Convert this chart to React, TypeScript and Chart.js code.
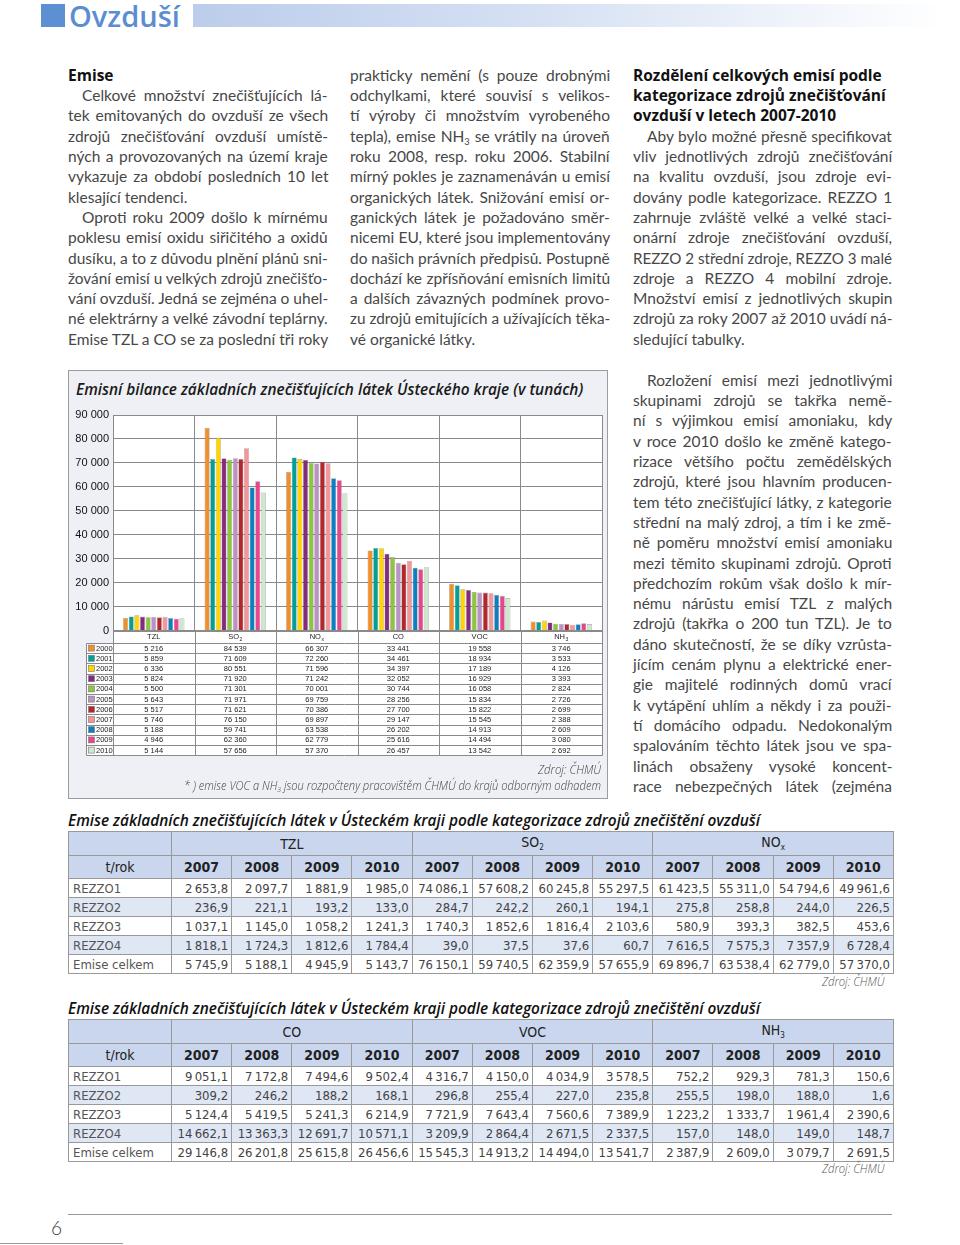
import React, { useEffect, useLayoutEffect, useRef } from "react";
import { Chart, registerables } from "chart.js";

Chart.register(...registerables);

// ---------------- chart data ----------------
const categories = ["TZL", "SO", "NO", "CO", "VOC", "NH"];
const categorySubscripts = ["", "2", "x", "", "", "3"];
const years = ["2000", "2001", "2002", "2003", "2004", "2005", "2006", "2007", "2008", "2009", "2010"];
const yearColors = ["#f0902c", "#00a096", "#ffd400", "#852b7d", "#8dc440", "#bb92c6", "#b5262c", "#f3969b", "#0c7fc3", "#e8468c", "#cfe6cf"];
const TZL = [5216, 5859, 6336, 5824, 5500, 5643, 5517, 5746, 5188, 4946, 5144];
const SO2 = [84539, 71609, 80551, 71920, 71301, 71971, 71621, 76150, 59741, 62360, 57656];
const NOX = [66307, 72260, 71596, 71242, 70001, 69759, 70386, 69897, 63538, 62779, 57370];
const CO = [33441, 34461, 34397, 32052, 30744, 28256, 27700, 29147, 26202, 25616, 26457];
const VOC = [19558, 18934, 17189, 16929, 16058, 15834, 15822, 15545, 14913, 14494, 13542];
const NH3 = [3746, 3533, 4126, 3393, 2824, 2726, 2699, 2388, 2609, 3080, 2692];
const seriesByCategory = [TZL, SO2, NOX, CO, VOC, NH3];
const yMax = 90000;
const yStep = 10000;

// ---------------- table data ----------------
const tableYears = ["2007", "2008", "2009", "2010"];
const rezzoRows = ["REZZO1", "REZZO2", "REZZO3", "REZZO4", "Emise celkem"];
const TZL_R = [[2653.8, 2097.7, 1881.9, 1985.0], [236.9, 221.1, 193.2, 133.0], [1037.1, 1145.0, 1058.2, 1241.3], [1818.1, 1724.3, 1812.6, 1784.4], [5745.9, 5188.1, 4945.9, 5143.7]];
const SO2_R = [[74086.1, 57608.2, 60245.8, 55297.5], [284.7, 242.2, 260.1, 194.1], [1740.3, 1852.6, 1816.4, 2103.6], [39.0, 37.5, 37.6, 60.7], [76150.1, 59740.5, 62359.9, 57655.9]];
const NOX_R = [[61423.5, 55311.0, 54794.6, 49961.6], [275.8, 258.8, 244.0, 226.5], [580.9, 393.3, 382.5, 453.6], [7616.5, 7575.3, 7357.9, 6728.4], [69896.7, 63538.4, 62779.0, 57370.0]];
const CO_R = [[9051.1, 7172.8, 7494.6, 9502.4], [309.2, 246.2, 188.2, 168.1], [5124.4, 5419.5, 5241.3, 6214.9], [14662.1, 13363.3, 12691.7, 10571.1], [29146.8, 26201.8, 25615.8, 26456.6]];
const VOC_R = [[4316.7, 4150.0, 4034.9, 3578.5], [296.8, 255.4, 227.0, 235.8], [7721.9, 7643.4, 7560.6, 7389.9], [3209.9, 2864.4, 2671.5, 2337.5], [15545.3, 14913.2, 14494.0, 13541.7]];
const NH3_R = [[752.2, 929.3, 781.3, 150.6], [255.5, 198.0, 188.0, 1.6], [1223.2, 1333.7, 1961.4, 2390.6], [157.0, 148.0, 149.0, 148.7], [2387.9, 2609.0, 3079.7, 2691.5]];

// ---------------- text ----------------
const col1 = [
  "#Emise",
  ">Celkové množství znečišťujících lá-",
  "tek emitovaných do ovzduší ze všech",
  "zdrojů znečišťování ovzduší umístě-",
  "ných a provozovaných na území kraje",
  "vykazuje za období posledních 10 let",
  "$klesající tendenci.",
  ">Oproti roku 2009 došlo k mírnému",
  "poklesu emisí oxidu siřičitého a oxidů",
  "dusíku, a to z důvodu plnění plánů sni-",
  "žování emisí u velkých zdrojů znečišťo-",
  "vání ovzduší. Jedná se zejména o uhel-",
  "né elektrárny a velké závodní teplárny.",
  "Emise TZL a CO se za poslední tři roky",
];
const col2 = [
  "prakticky nemění (s pouze drobnými",
  "odchylkami, které souvisí s velikos-",
  "tí výroby či množstvím vyrobeného",
  "tepla), emise NH_3 se vrátily na úroveň",
  "roku 2008, resp. roku 2006. Stabilní",
  "mírný pokles je zaznamenáván u emisí",
  "organických látek. Snižování emisí or-",
  "ganických látek je požadováno směr-",
  "nicemi EU, které jsou implementovány",
  "do našich právních předpisů. Postupně",
  "dochází ke zpřísňování emisních limitů",
  "a dalších závazných podmínek provo-",
  "zu zdrojů emitujících a užívajících těka-",
  "$vé organické látky.",
];
const col3a = [
  "#Rozdělení celkových emisí podle",
  "#kategorizace zdrojů znečišťování",
  "#ovzduší v letech 2007-2010",
  ">Aby bylo možné přesně specifikovat",
  "vliv jednotlivých zdrojů znečišťování",
  "na kvalitu ovzduší, jsou zdroje evi-",
  "dovány podle kategorizace. REZZO 1",
  "zahrnuje zvláště velké a velké staci-",
  "onární zdroje znečišťování ovzduší,",
  "REZZO 2 střední zdroje, REZZO 3 malé",
  "zdroje a REZZO 4 mobilní zdroje.",
  "Množství emisí z jednotlivých skupin",
  "zdrojů za roky 2007 až 2010 uvádí ná-",
  "$sledující tabulky.",
];
const col3b = [
  ">Rozložení emisí mezi jednotlivými",
  "skupinami zdrojů se takřka nemě-",
  "ní s výjimkou emisí amoniaku, kdy",
  "v roce 2010 došlo ke změně katego-",
  "rizace většího počtu zemědělských",
  "zdrojů, které jsou hlavním producen-",
  "tem této znečišťující látky, z kategorie",
  "střední na malý zdroj, a tím i ke změ-",
  "ně poměru množství emisí amoniaku",
  "mezi těmito skupinami zdrojů. Oproti",
  "předchozím rokům však došlo k mír-",
  "nému nárůstu emisí TZL z malých",
  "zdrojů (takřka o 200 tun TZL). Je to",
  "dáno skutečností, že se díky vzrůsta-",
  "jícím cenám plynu a elektrické ener-",
  "gie majitelé rodinných domů vrací",
  "k vytápění uhlím a někdy i za použi-",
  "tí domácího odpadu. Nedokonalým",
  "spalováním těchto látek jsou ve spa-",
  "linách obsaženy vysoké koncent-",
  "race nebezpečných látek (zejména",
];

const BODY = '"Lato", "Open Sans", "Noto Sans", sans-serif';
const HEAD = '"Open Sans", "Noto Sans", sans-serif';
const COND = '"Liberation Sans Narrow", "DejaVu Sans Condensed", "Roboto Condensed", "Open Sans", "Noto Sans", sans-serif';
const LINE_H = 20.3;

function withSubs(text: string) {
  const parts = text.split("NH_3");
  const out: any[] = [];
  parts.forEach((p, i) => {
    out.push(<React.Fragment key={"p" + i}>{p}</React.Fragment>);
    if (i < parts.length - 1)
      out.push(
        <React.Fragment key={"s" + i}>
          NH<sub style={{ fontSize: "0.6em", verticalAlign: "-0.3em", lineHeight: 0 }}>3</sub>
        </React.Fragment>
      );
  });
  return out;
}

function JLine(props: {
  top: number;
  left: number;
  width: number;
  justify?: boolean;
  exact?: boolean;
  align?: "left" | "right";
  style?: any;
  children: any;
}) {
  const { top, left, width, justify = false, exact = false, align = "left", style, children } = props;
  const ref = useRef<HTMLSpanElement>(null);
  useLayoutEffect(() => {
    const el = ref.current;
    if (!el) return;
    const fit = () => {
      el.style.wordSpacing = "0px";
      el.style.transform = "none";
      const w = el.offsetWidth;
      const spaces = ((el.textContent || "").match(/ /g) || []).length;
      if (exact) {
        el.style.transform = `scaleX(${width / w})`;
      } else if (w > width) {
        el.style.transform = `scaleX(${width / w})`;
      } else if (justify && spaces > 0) {
        el.style.wordSpacing = `${(width - w) / spaces}px`;
      }
    };
    fit();
    const f: any = (document as any).fonts;
    if (f && f.ready) f.ready.then(fit);
  }, []);
  const right = align === "right";
  return (
    <div
      style={{
        position: "absolute",
        top,
        left,
        width,
        height: LINE_H,
        whiteSpace: "nowrap",
        lineHeight: LINE_H + "px",
        ...style,
      }}
    >
      <span
        ref={ref}
        style={{
          display: "inline-block",
          position: "absolute",
          top: 0,
          left: right ? undefined : 0,
          right: right ? 0 : undefined,
          transformOrigin: right ? "right center" : "left center",
        }}
      >
        {children}
      </span>
    </div>
  );
}

function TextColumn(props: { lines: string[]; left: number; width: number; firstCenter: number }) {
  const { lines, left, width, firstCenter } = props;
  return (
    <>
      {lines.map((raw, i) => {
        let t = raw;
        let bold = false,
          indent = 0,
          last = false;
        if (t.startsWith("#")) {
          bold = true;
          t = t.slice(1);
        }
        if (t.startsWith(">")) {
          indent = 14;
          t = t.slice(1);
        }
        if (t.startsWith("$")) {
          last = true;
          t = t.slice(1);
        }
        const top = firstCenter + i * LINE_H - LINE_H / 2;
        return (
          <JLine
            key={i}
            top={top}
            left={left + indent}
            width={width - indent}
            justify={!bold && !last}
            style={
              bold
                ? { fontFamily: HEAD, fontWeight: 700, fontSize: 15.5, color: "#111" }
                : { fontFamily: BODY, fontWeight: 400, fontSize: 15.5, color: "#474747" }
            }
          >
            {withSubs(t)}
          </JLine>
        );
      })}
    </>
  );
}

function fmtInt(v: number) {
  return String(v).replace(/\B(?=(\d{3})+(?!\d))/g, " ");
}
function fmtDec(v: number) {
  const [i, d] = v.toFixed(1).split(".");
  return i.replace(/\B(?=(\d{3})+(?!\d))/g, "\u2009") + "," + d;
}

const dataTablePlugin = {
  id: "dataTable",
  beforeDraw(chart: any) {
    const { ctx, chartArea: a } = chart;
    const headerH = 12.5;
    const rowH = 10.2;
    const rowsTop = a.bottom + headerH;
    const tBottom = rowsTop + rowH * years.length;
    const legLeft = a.left - 27;
    ctx.save();
    ctx.fillStyle = "#ffffff";
    ctx.fillRect(a.left, a.top, a.right - a.left, rowsTop - a.top);
    ctx.fillRect(legLeft, rowsTop, a.right - legLeft, tBottom - rowsTop);
    ctx.restore();
  },
  afterDraw(chart: any) {
    const { ctx, chartArea: a } = chart;
    const n = categories.length;
    const cw = (a.right - a.left) / n;
    const headerH = 12.5;
    const rowH = 10.2;
    const tTop = a.bottom;
    const rowsTop = tTop + headerH;
    const tBottom = rowsTop + rowH * years.length;
    const legLeft = a.left - 27;
    const px = (v: number) => Math.round(v) + 0.5;
    const line = (x1: number, y1: number, x2: number, y2: number) => {
      ctx.beginPath();
      ctx.moveTo(px(x1), px(y1));
      ctx.lineTo(px(x2), px(y2));
      ctx.stroke();
    };
    ctx.save();
    ctx.strokeStyle = "#8a8a8a";
    ctx.lineWidth = 1;
    ctx.strokeRect(px(a.left), px(a.top), Math.round(a.right) - Math.round(a.left), Math.round(a.bottom) - Math.round(a.top));
    line(a.left, tTop, a.right, tTop);
    for (let r = 0; r <= years.length; r++) {
      const y = rowsTop + r * rowH;
      line(legLeft, y, a.right, y);
    }
    for (let i = 0; i <= n; i++) {
      const xx = a.left + i * cw;
      line(xx, tTop, xx, tBottom);
    }
    line(legLeft, rowsTop, legLeft, tBottom);

    ctx.fillStyle = "#222";
    ctx.textBaseline = "middle";
    // category headers
    for (let i = 0; i < n; i++) {
      const cx = a.left + (i + 0.5) * cw;
      const cy = tTop + headerH / 2 + 0.5;
      ctx.font = '7.5px "Liberation Sans", Arial, sans-serif';
      const mw = ctx.measureText(categories[i]).width;
      const sub = categorySubscripts[i];
      ctx.font = '5px "Liberation Sans", Arial, sans-serif';
      const sw = sub ? ctx.measureText(sub).width + 0.5 : 0;
      const x0 = cx - (mw + sw) / 2;
      ctx.textAlign = "left";
      ctx.font = '7.5px "Liberation Sans", Arial, sans-serif';
      ctx.fillText(categories[i], x0, cy);
      if (sub) {
        ctx.font = '5px "Liberation Sans", Arial, sans-serif';
        ctx.fillText(sub, x0 + mw + 0.5, cy + 2.5);
      }
    }
    // values
    ctx.font = '7.5px "Liberation Sans", Arial, sans-serif';
    ctx.textAlign = "center";
    for (let r = 0; r < years.length; r++) {
      const cy = rowsTop + (r + 0.5) * rowH + 0.5;
      for (let i = 0; i < n; i++) {
        const cx = a.left + (i + 0.5) * cw;
        ctx.fillText(fmtInt(seriesByCategory[i][r]), cx, cy);
      }
    }
    // legend column
    ctx.textAlign = "left";
    for (let r = 0; r < years.length; r++) {
      const cy = rowsTop + (r + 0.5) * rowH;
      ctx.fillStyle = yearColors[r];
      ctx.fillRect(legLeft + 2.5, cy - 3, 6, 6);
      ctx.strokeStyle = "#777";
      ctx.lineWidth = 0.6;
      ctx.strokeRect(legLeft + 2.5, cy - 3, 6, 6);
      ctx.fillStyle = "#222";
      ctx.fillText(years[r], legLeft + 10, cy + 0.5);
    }
    ctx.restore();
  },
};

function EmissionChart() {
  const ref = useRef<HTMLCanvasElement>(null);
  useEffect(() => {
    if (!ref.current) return;
    const chart = new Chart(ref.current, {
      type: "bar",
      data: {
        labels: categories.map((c, i) => c + categorySubscripts[i]),
        datasets: years.map((y, yi) => ({
          label: y,
          data: seriesByCategory.map((s) => s[yi]),
          backgroundColor: yearColors[yi],
          borderColor: "rgba(80,80,80,0.55)",
          borderWidth: 0.6,
          categoryPercentage: 0.76,
          barPercentage: 0.9,
        })),
      },
      options: {
        animation: false,
        responsive: false,
        maintainAspectRatio: false,
        layout: { padding: { top: 14, right: 3, bottom: 130.5, left: 0 } },
        plugins: { legend: { display: false }, tooltip: { enabled: false }, title: { display: false } },
        scales: {
          x: {
            grid: { color: "#8a8a8a", drawTicks: false, offset: true },
            border: { color: "#8a8a8a" },
            ticks: { display: false },
          },
          y: {
            min: 0,
            max: yMax,
            ticks: {
              stepSize: yStep,
              padding: 4,
              color: "#111",
              font: { family: '"Liberation Sans", Arial, sans-serif', size: 11 },
              callback: (v: any) => fmtInt(Number(v)),
            },
            grid: { color: "#8a8a8a", drawTicks: false },
            border: { color: "#8a8a8a" },
            afterFit: (s: any) => {
              s.width = 42;
            },
          },
        },
      } as any,
      plugins: [dataTablePlugin],
    });
    return () => chart.destroy();
  }, []);
  return <canvas ref={ref} width={534} height={360} style={{ position: "absolute", left: 2, top: 30, width: 534, height: 360 }} />;
}

function EmTable(props: { top: number; groups: string[]; subs: string[]; data: number[][][] }) {
  const { top, groups, subs, data } = props;
  const border = "1px solid #999";
  const hdrBg = "#c9d6ee";
  const altBg = "#dfe6f4";
  const cellBase: any = { border, padding: 0, lineHeight: 1, overflow: "hidden", whiteSpace: "nowrap" };
  return (
    <table
      style={{
        position: "absolute",
        left: 68,
        top,
        width: 825,
        borderCollapse: "collapse",
        tableLayout: "fixed",
        fontFamily: COND,
        fontStretch: "condensed",
        color: "#333",
      }}
    >
      <colgroup>
        <col style={{ width: 103 }} />
        {Array.from({ length: 12 }).map((_, i) => (
          <col key={i} style={{ width: 60.17 }} />
        ))}
      </colgroup>
      <tbody>
        <tr style={{ height: 24, background: hdrBg }}>
          <td style={cellBase}></td>
          {groups.map((g, i) => (
            <td key={i} colSpan={4} style={{ ...cellBase, textAlign: "center", fontSize: 14, color: "#222" }}>
              {g}
              {subs[i] ? <sub style={{ fontSize: 8, verticalAlign: "-3px" }}>{subs[i]}</sub> : null}
            </td>
          ))}
        </tr>
        <tr style={{ height: 23, background: hdrBg }}>
          <td style={{ ...cellBase, textAlign: "center", fontSize: 14, color: "#222" }}>t/rok</td>
          {groups.map((g, gi) =>
            tableYears.map((y, yi) => (
              <td key={gi + "-" + yi} style={{ ...cellBase, textAlign: "center", fontWeight: 700, fontSize: 14, color: "#222" }}>
                {y}
              </td>
            ))
          )}
        </tr>
        {rezzoRows.map((r, ri) => (
          <tr key={r} style={{ height: 19, background: ri % 2 === 1 ? altBg : "#fff" }}>
            <td style={{ ...cellBase, paddingLeft: 4, fontSize: 13, fontWeight: 300, color: "#555" }}>{r}</td>
            {data.map((d, gi) =>
              d[ri].map((v, yi) => (
                <td
                  key={gi + "-" + yi}
                  style={{ ...cellBase, textAlign: "right", paddingRight: 3, fontSize: 13, fontWeight: 300, color: "#444" }}
                >
                  {fmtDec(v)}
                </td>
              ))
            )}
          </tr>
        ))}
      </tbody>
    </table>
  );
}

export default function App() {
  const tableTitle = "Emise základních znečišťujících látek v Ústeckém kraji podle kategorizace zdrojů znečištění ovzduší";
  return (
    <div
      style={{
        position: "absolute",
        left: 0,
        top: 0,
        width: 960,
        height: 1245,
        background: "#fff",
        overflow: "hidden",
        fontFamily: BODY,
      }}
    >
      {/* header */}
      <div style={{ position: "absolute", left: 41, top: 4, width: 24, height: 23, background: "#5d8fd3" }} />
      <div
        style={{
          position: "absolute",
          left: 69,
          top: 1,
          fontFamily: HEAD,
          fontWeight: 600,
          fontSize: 29,
          lineHeight: "30px",
          color: "#5b8dd2",
          whiteSpace: "nowrap",
        }}
      >
        Ovzduší
      </div>
      <div
        style={{
          position: "absolute",
          left: 193,
          top: 4,
          width: 752,
          height: 23,
          background: "linear-gradient(to right, #bccdeb 0%, #d5e0f3 45%, #ffffff 100%)",
        }}
      />

      {/* text columns */}
      <TextColumn lines={col1} left={68} width={260} firstCenter={75} />
      <TextColumn lines={col2} left={350} width={260} firstCenter={75} />
      <TextColumn lines={col3a} left={633} width={259} firstCenter={75} />
      <TextColumn lines={col3b} left={633} width={259} firstCenter={380} />

      {/* chart box */}
      <div
        style={{
          position: "absolute",
          left: 68,
          top: 370,
          width: 538,
          height: 427,
          border: "1px solid #9c9c9c",
          background: "#eef0f5",
        }}
      >
        <JLine
          top={18 - LINE_H / 2}
          left={7}
          width={507}
          exact
          style={{ fontFamily: HEAD, fontStyle: "italic", fontWeight: 600, fontSize: 16, color: "#1a1a1a" }}
        >
          Emisní bilance základních znečišťujících látek Ústeckého kraje (v tunách)
        </JLine>
        <EmissionChart />
        <JLine
          top={398 - LINE_H / 2}
          left={469}
          width={63}
          exact
          align="right"
          style={{ fontFamily: HEAD, fontStyle: "italic", fontWeight: 300, fontSize: 13, color: "#444" }}
        >
          Zdroj: ČHMÚ
        </JLine>
        <JLine
          top={414 - LINE_H / 2}
          left={115}
          width={417}
          exact
          align="right"
          style={{ fontFamily: HEAD, fontStyle: "italic", fontWeight: 300, fontSize: 13, color: "#444" }}
        >
          * ) emise VOC a {withSubs("NH_3")} jsou rozpočteny pracovištěm ČHMÚ do krajů odborným odhadem
        </JLine>
      </div>

      {/* table 1 */}
      <JLine
        top={820 - LINE_H / 2}
        left={68}
        width={692}
        exact
        style={{ fontFamily: HEAD, fontStyle: "italic", fontWeight: 600, fontSize: 16, color: "#111" }}
      >
        {tableTitle}
      </JLine>
      <EmTable top={831} groups={["TZL", "SO", "NO"]} subs={["", "2", "x"]} data={[TZL_R, SO2_R, NOX_R]} />
      <JLine
        top={982 - LINE_H / 2}
        left={822}
        width={63}
        exact
        align="right"
        style={{ fontFamily: HEAD, fontStyle: "italic", fontWeight: 300, fontSize: 12, color: "#555" }}
      >
        Zdroj: ČHMÚ
      </JLine>

      {/* table 2 */}
      <JLine
        top={1008 - LINE_H / 2}
        left={68}
        width={692}
        exact
        style={{ fontFamily: HEAD, fontStyle: "italic", fontWeight: 600, fontSize: 16, color: "#111" }}
      >
        {tableTitle}
      </JLine>
      <EmTable top={1019} groups={["CO", "VOC", "NH"]} subs={["", "", "3"]} data={[CO_R, VOC_R, NH3_R]} />
      <JLine
        top={1169 - LINE_H / 2}
        left={822}
        width={63}
        exact
        align="right"
        style={{ fontFamily: HEAD, fontStyle: "italic", fontWeight: 300, fontSize: 12, color: "#555" }}
      >
        Zdroj: ČHMÚ
      </JLine>

      {/* footer */}
      <div style={{ position: "absolute", left: 68, top: 1214, width: 824, height: 1, background: "#9a9a9a" }} />
      <div
        style={{
          position: "absolute",
          left: 51,
          top: 1217,
          fontFamily: BODY,
          fontWeight: 300,
          fontSize: 19,
          lineHeight: "22px",
          color: "#333",
        }}
      >
        6
      </div>
      <div style={{ position: "absolute", left: 0, top: 1243, width: 123, height: 1, background: "#9a9a9a" }} />
    </div>
  );
}
